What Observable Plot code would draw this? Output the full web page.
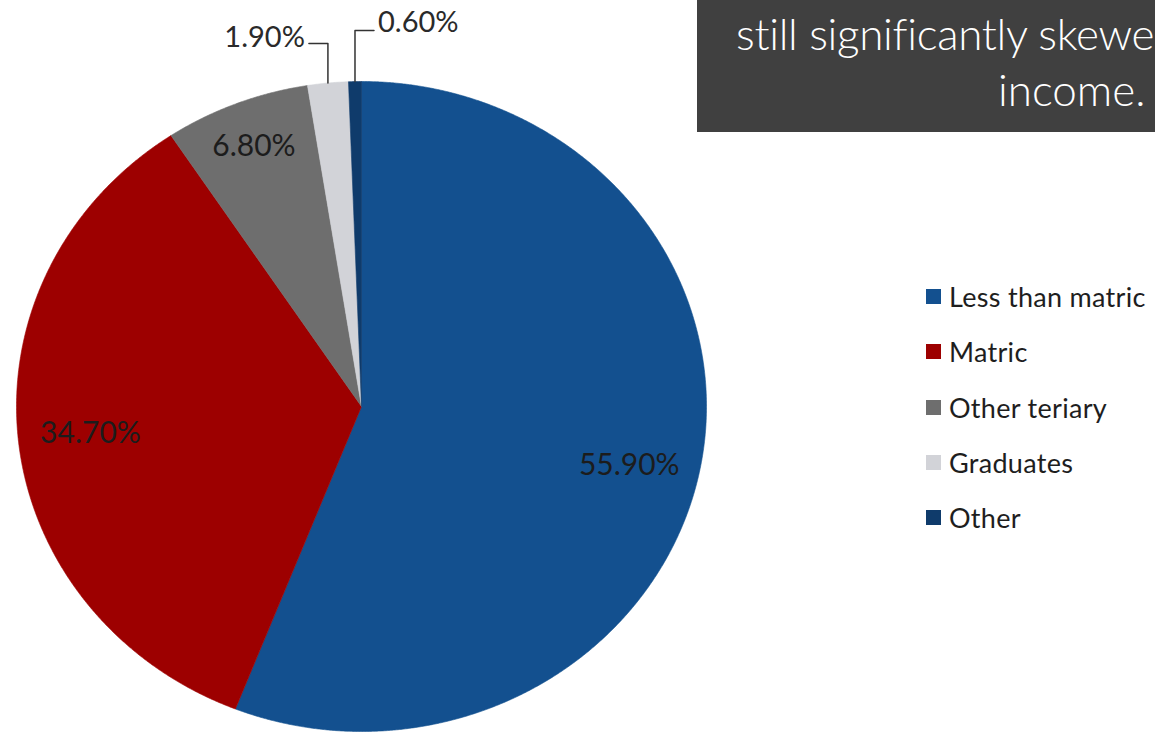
<!DOCTYPE html>
<html>
<head>
<meta charset="utf-8">
<script src="https://cdn.jsdelivr.net/npm/d3@7"></script>
<script src="https://cdn.jsdelivr.net/npm/@observablehq/plot@0.6"></script>
<style>
  html, body { margin: 0; padding: 0; background: #ffffff; }
  #wrap { position: relative; width: 1155px; height: 732px; overflow: hidden; background: #ffffff; }
  #chart { position: absolute; left: 0; top: 0; }
  #box { position: absolute; left: 697px; top: 0; width: 560px; height: 132px; background: #404040; }
  .boxline { position: absolute; color: #ffffff; font-family: Lato, "Open Sans", sans-serif; font-weight: 300; font-size: 44px; white-space: nowrap; line-height: 1; }
  #legend { position: absolute; left: 926px; top: 269px; font-family: Lato, "Noto Sans", sans-serif; font-size: 27px; letter-spacing: 0.3px; color: #1e1e1e; }
  .row { display: flex; align-items: center; height: 55.3px; white-space: nowrap; }
  .sw { width: 15px; height: 15px; margin-right: 8px; flex: none; }
</style>
</head>
<body>
<div id="wrap">
  <div id="chart"></div>
  <div id="box"></div>
  <div class="boxline" id="line1" style="left:736px; top:11px; letter-spacing:-0.3px;">still significantly skewe</div>
  <div class="boxline" id="line2" style="left:998px; top:67px;">income.</div>
  <div id="legend"></div>
</div>
<script>
// ---- data ----
const categories = ["Less than matric", "Matric", "Other teriary", "Graduates", "Other"];
const shares = [55.9, 34.7, 6.8, 1.9, 0.6];
const labels = ["55.90%", "34.70%", "6.80%", "1.90%", "0.60%"];
const colors = ["#13508f", "#9d0000", "#6e6e6e", "#d2d3d8", "#0f3b6b"];

// ---- build pie geometry (unit circle, angle clockwise from 12 o'clock) ----
const total = d3.sum(shares);
let acc = 0;
const slices = categories.map((cat, i) => {
  const a0 = acc / total * 2 * Math.PI;
  acc += shares[i];
  const a1 = acc / total * 2 * Math.PI;
  return {cat, share: shares[i], label: labels[i], a0, a1, mid: (a0 + a1) / 2, i};
});

const polyPts = [];
for (const s of slices) {
  polyPts.push({cat: s.cat, x: 0, y: 0});
  const n = Math.max(4, Math.ceil((s.a1 - s.a0) / (Math.PI / 720)));
  for (let k = 0; k <= n; k++) {
    const a = s.a0 + (s.a1 - s.a0) * k / n;
    polyPts.push({cat: s.cat, x: Math.sin(a), y: Math.cos(a)});
  }
  polyPts.push({cat: s.cat, x: 0, y: 0});
}

// scale geometry (pixels per unit)
const RX = 345, RY = 325, CX = 361, CY = 406;

// inside labels
const inside = slices.filter(s => s.share >= 3).map(s => {
  const r = s.share > 20 ? 0.79 : 0.86;
  return {label: s.label, x: r * Math.sin(s.mid), y: r * Math.cos(s.mid) - (s.share > 50 ? 0.035 : 0)};
});

// outside labels with elbow leaders
const outsideSlices = slices.filter(s => s.share < 3);
const leaderPts = [];
const outsideLabels = [];
outsideSlices.forEach((s, k) => {
  const dir = k === 0 ? -1 : 1;
  const ex = Math.sin(s.mid), ey = Math.cos(s.mid);
  const elbowY = 1.117 + 0.04 * k;
  const hx = ex + dir * 19 / RX;
  leaderPts.push({z: s.cat, x: ex, y: ey});
  leaderPts.push({z: s.cat, x: ex, y: elbowY});
  leaderPts.push({z: s.cat, x: hx, y: elbowY});
  outsideLabels.push({label: s.label, x: hx + dir * 4 / RX, y: elbowY + (k === 0 ? 6 : 8) / RY, anchor: dir < 0 ? "end" : "start"});
});

const fontLab = "Lato, 'Noto Sans', sans-serif";

const chart = Plot.plot({
  width: 1155,
  height: 732,
  x: {domain: [-1, 1], range: [CX - RX, CX + RX], axis: null},
  y: {domain: [-1, 1], range: [CY + RY, CY - RY], axis: null},
  color: {domain: categories, range: colors},
  style: {background: "transparent", overflow: "visible"},
  marks: [
    Plot.line(polyPts, {x: "x", y: "y", z: "cat", fill: "cat", stroke: "cat", strokeWidth: 0.6, curve: "linear"}),
    Plot.line(leaderPts, {x: "x", y: "y", z: "z", stroke: "#333333", strokeWidth: 1.5, curve: "linear"}),
    Plot.text(inside, {x: "x", y: "y", text: "label", fontSize: 30, fill: "#1c1c1c", fontFamily: fontLab}),
    Plot.text(outsideLabels.filter(d => d.anchor === "end"), {x: "x", y: "y", text: "label", textAnchor: "end", fontSize: 29, fill: "#2a2a2a", fontFamily: fontLab}),
    Plot.text(outsideLabels.filter(d => d.anchor === "start"), {x: "x", y: "y", text: "label", textAnchor: "start", fontSize: 29, fill: "#2a2a2a", fontFamily: fontLab})
  ]
});
document.getElementById("chart").appendChild(chart);

// legend
const leg = document.getElementById("legend");
categories.forEach((c, i) => {
  const row = document.createElement("div");
  row.className = "row";
  const sw = document.createElement("span");
  sw.className = "sw";
  sw.style.background = colors[i];
  const tx = document.createElement("span");
  tx.textContent = c;
  row.appendChild(sw);
  row.appendChild(tx);
  leg.appendChild(row);
});
</script>
</body>
</html>
